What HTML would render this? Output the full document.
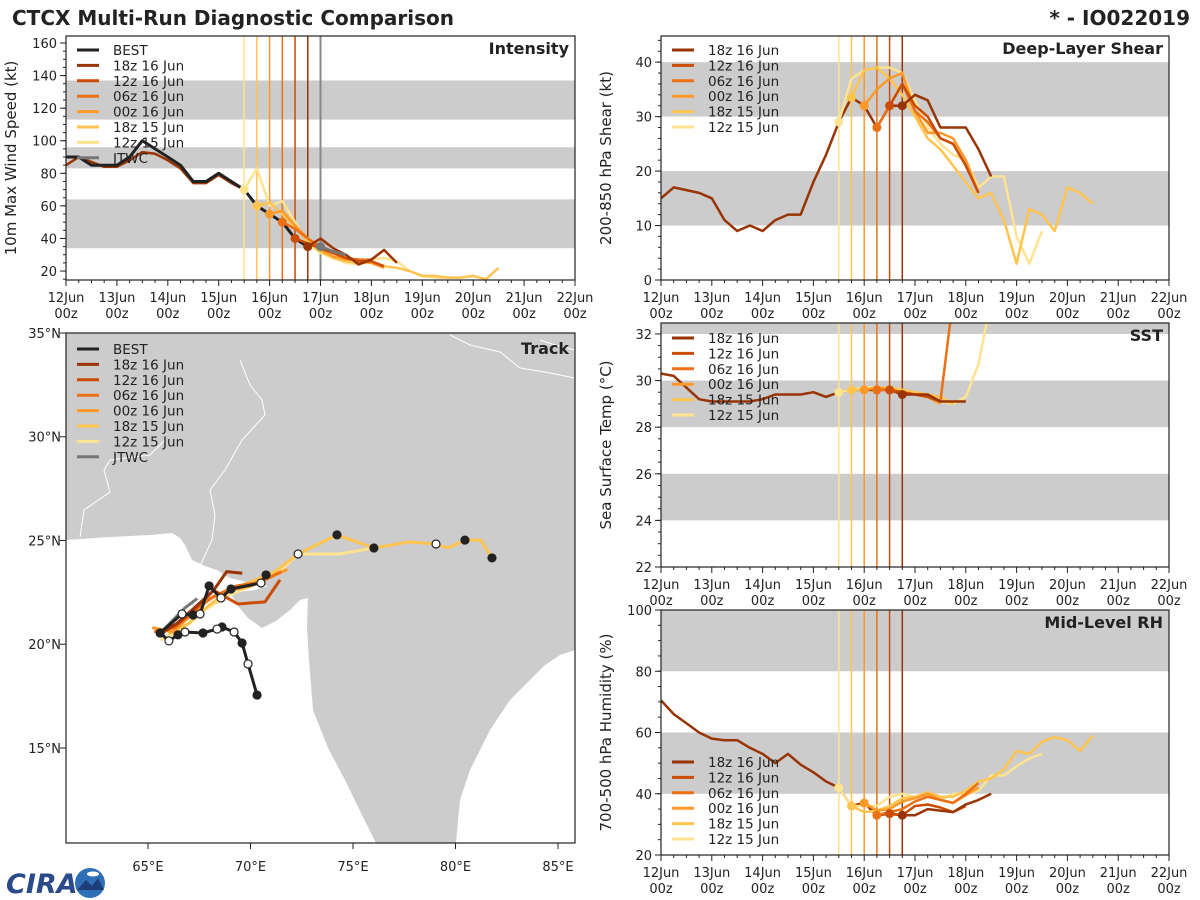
<!DOCTYPE html>
<html><head><meta charset="utf-8"><style>
html,body{margin:0;padding:0;background:#fff;}
svg{display:block;font-family:"DejaVu Sans","Liberation Sans",sans-serif;}
</style></head><body>
<svg id="fig" width="1200" height="900" viewBox="0 0 1200 900" xmlns="http://www.w3.org/2000/svg">
<text x="12" y="25" font-size="20" font-weight="bold" fill="#222">CTCX Multi-Run Diagnostic Comparison</text>
<text x="1190" y="25" font-size="20" font-weight="bold" fill="#222" text-anchor="end">* - IO022019</text>
<g>
<text x="6" y="893" font-size="27" font-weight="bold" fill="#2a4a8a" font-style="italic">CIRA</text>
<circle cx="90" cy="883" r="15" fill="#2f6fb5"/>
<path d="M77 890 L86 880 L92 886 L98 878 L104 890 Z" fill="#1d3d7a"/>
<ellipse cx="93" cy="874" rx="6" ry="2.5" fill="#fff"/>
</g>
</svg>
<script>
// ---------- data ----------
const dayLabels = ['12Jun','13Jun','14Jun','15Jun','16Jun','17Jun','18Jun','19Jun','20Jun','21Jun','22Jun'];
const runNames = ['18z 16 Jun','12z 16 Jun','06z 16 Jun','00z 16 Jun','18z 15 Jun','12z 15 Jun'];
const runColors = ['#993404','#cc4c02','#ec7014','#fe9929','#fec44f','#fee391'];
const runStart = [19,18,17,16,15,14];   // 6-hour steps since 12Jun 00z
const jtwcStart = 20;

// Intensity (kt)
const intTicks = [20,40,60,80,100,120,140,160];
const intBest = [90,90,85,85,85,90,100,95,90,85,75,75,80,75,70,60,55,50,40,35];
const intHist = [85,90,87,84,84,88,93,92,88,83,74,74,79,74,70,60,55,50,40,35];
const int18z16 = [35,40,34,30,24,27,33,25];
const int12z16 = [40,37,34,31,28,26,26,23];
const int06z16 = [50,46,40,35,31,28,27,27];
const int00z16 = [55,57,48,40,33,29,27,27,25,22];
const int18z15 = [60,62,55,47,38,32,28,26,25,25,23,22,20,17,17,16,16,17,15,22];
const int12z15 = [70,83,60,63,50,37,31,28,25,24,27,28,26,20,17,16,16];
const intJtwc = [35,32,30];

// Shear (kt)
const shrTicks = [0,10,20,30,40];
const shrHist = [15,17,16.5,16,15,11,9,10,9,11,12,12,18,23,29,33.5,32,28,32,32];
const shr18z16 = [32,34,33,28,28,28,24,19];
const shr12z16 = [32,36,32,30,26,25,21,16];
const shr06z16 = [28,32,36,31,29,26,25,21,16];
const shr00z16 = [32,35,37,38,31,27,27,26,22,16];
const shr18z15 = [33.5,38.5,39,37,34,30,26,24,21,18,15,16,11,3,13,12,9,17,16,14];
const shr12z15 = [29,37,38.5,39,39,38,33,28,25,23,22,17,19,19,8,3,9];

// SST (C)
const sstTicks = [22,24,26,28,30,32];
const sstHist = [30.3,30.2,29.7,29.2,29.1,29.1,29.1,29.1,29.2,29.4,29.4,29.4,29.5,29.3,29.5,29.6,29.6,29.6,29.6,29.4];
const sst18z16 = [29.4,29.4,29.4,29.1,29.1,29.1];
const sst12z16 = [29.6,29.5,29.4,29.3,29.1];
const sst06z16 = [29.6,29.6,29.5,29.4,29.3,29.1,33.5];
const sst00z16 = [29.6,29.7,29.6,29.5,29.4,29.3,29.0];
const sst18z15 = [29.6,29.6,29.7,29.7,29.6,29.5,29.4,29.3,29.0];
const sst12z15 = [29.5,29.6,29.7,29.7,29.6,29.5,29.4,29.3,29.1,29.0,29.3,30.7,33.5];

// RH (%)
const rhTicks = [20,40,60,80,100];
const rhHist = [70.5,66,63,60,58,57.5,57.5,55,53,50,53,49.5,47,44,42,36,37,33,33.5,33];
const rh18z16 = [33,33,35,34.5,34,36.5,38,40];
const rh12z16 = [33.5,33,36,36.5,35.5,34,36];
const rh06z16 = [33,34,35,37.5,39,38,37,40,43.5];
const rh00z16 = [37,34.5,35,37.5,38.5,40,38,37,39.5,42];
const rh18z15 = [36,34,34.5,36,38.5,39,40.5,39,39,41,44,45,48,54,53,57,58.5,57.5,54,59];
const rh12z15 = [42,36,36,36,39,40,39,39.5,38,40,40,41,46,46,49,51.5,53];

// Track (lon, lat)
const bestLon = [70.32,69.88,69.59,69.20,68.61,68.37,67.68,66.80,66.46,66.02,65.59,66.66,67.20,67.54,67.98,68.56,69.05,70.51,70.76];
const bestLat = [17.55,19.05,20.06,20.59,20.83,20.73,20.54,20.59,20.45,20.16,20.54,21.46,21.41,21.46,22.81,22.23,22.66,22.95,23.34];
const jtwcLon = [65.6,66.8,67.4];
const jtwcLat = [20.54,21.75,22.2];
const trk18z16Lon = [65.5,66.4,67.2,68.2,68.84,69.6];
const trk18z16Lat = [20.5,21.0,21.7,22.6,23.5,23.42];
const trk12z16Lon = [65.6,66.5,67.3,68.2,69.39,70.71,71.44];
const trk12z16Lat = [20.5,21.0,21.7,22.6,21.94,22.04,23.1];
const trk06z16Lon = [65.3,66.3,67.2,68.2,69.3,70.5,71.5];
const trk06z16Lat = [20.6,20.8,21.6,22.3,22.8,23.0,23.5];
const trk00z16Lon = [65.2,66.2,67.0,68.0,69.0,70.0,70.9,71.8];
const trk00z16Lat = [20.8,20.6,21.3,22.2,22.6,22.8,23.2,23.6];
const trk18z15Lon = [66.0,67.0,68.0,69.0,70.0,71.2,72.32,74.22,76.02,77.73,79.05,79.63,80.46,81.24,81.78];
const trk18z15Lat = [20.5,21.0,21.9,22.6,23.0,23.5,24.35,25.27,24.64,24.93,24.83,24.64,25.02,25.02,24.16];
const trk12z15Lon = [65.6,66.6,67.7,68.8,70.0,71.3,72.32,74.32,76.02];
const trk12z15Lat = [20.2,20.7,21.6,22.3,22.8,23.4,24.35,24.35,24.64];
const lonTicks = [65,70,75,80,85];
const latTicks = [15,20,25,30,35];

// ---------- drawing ----------
const NS = 'http://www.w3.org/2000/svg';
const svg = document.getElementById('fig');
function mk(tag, attrs, parent){
  const e = document.createElementNS(NS, tag);
  for (const k in attrs) e.setAttribute(k, attrs[k]);
  (parent || svg).appendChild(e);
  return e;
}
function pts(arr){ return arr.map(p => p[0].toFixed(1)+','+p[1].toFixed(1)).join(' '); }

const panels = {
  int:{x0:66,x1:575,y0:36,y1:280,ymin:14.5,ymax:164.3},
  shr:{x0:661,x1:1169,y0:36,y1:280,ymin:0,ymax:44.8},
  sst:{x0:661,x1:1169,y0:323,y1:567,ymin:22,ymax:32.47},
  rh:{x0:661,x1:1169,y0:610,y1:855,ymin:20,ymax:100}
};
function X(p,t){ return p.x0 + (p.x1-p.x0)*t/40; }
function Y(p,v){ return p.y1 - (p.y1-p.y0)*(v-p.ymin)/(p.ymax-p.ymin); }

function timePanel(key, name, title, ytitle, ticks, bands, minorStep, hist, runs, extra){
  const p = panels[key];
  const g = mk('g', {});
  
  
  const cp = mk('clipPath', {id:'clip-'+key}, g);
  mk('rect', {x:p.x0, y:p.y0, width:p.x1-p.x0, height:p.y1-p.y0}, cp);
  // bands
  bands.forEach(b => {
    const y1 = Y(p, Math.min(b[1], p.ymax)), y2 = Y(p, Math.max(b[0], p.ymin));
    const r = mk('rect', {x:p.x0, y:y1, width:p.x1-p.x0, height:y2-y1, fill:'#cccccc'}, g);
    
    
  });
  const plot = mk('g', {'clip-path':'url(#clip-'+key+')'}, g);
  // init lines
  runStart.forEach((s,i) => {
    const l = mk('line', {x1:X(p,s), x2:X(p,s), y1:p.y0, y2:p.y1, stroke:runColors[i], 'stroke-width':1.5}, plot);
    
    
  });
  if (extra && extra.jtwc) {
    const l = mk('line', {x1:X(p,jtwcStart), x2:X(p,jtwcStart), y1:p.y0, y2:p.y1, stroke:'#888', 'stroke-width':2}, plot);
    
    
  }
  // history
  const hl = mk('polyline', {points:pts(hist.map((v,t)=>[X(p,t),Y(p,v)])), fill:'none', stroke:'#993404', 'stroke-width':2.5, 'stroke-linejoin':'round'}, plot);
  
  
  if (extra && extra.best) {
    const bl = mk('polyline', {points:pts(extra.best.map((v,t)=>[X(p,t),Y(p,v)])), fill:'none', stroke:'#222', 'stroke-width':3, 'stroke-linejoin':'round'}, plot);
    
    
  }
  // runs (draw oldest first)
  for (let i = runs.length-1; i >= 0; i--) {
    const s = runStart[i];
    const line = mk('polyline', {points:pts(runs[i].map((v,k)=>[X(p,s+k),Y(p,v)])), fill:'none', stroke:runColors[i], 'stroke-width':2.5, 'stroke-linejoin':'round'}, plot);
    
    
  }
  for (let i = runs.length-1; i >= 0; i--) {
    const s = runStart[i];
    const dot = mk('circle', {cx:X(p,s), cy:Y(p,runs[i][0]), r:4.5, fill:runColors[i]}, plot);
    
    
  }
  if (extra && extra.jtwc) {
    const jl = mk('polyline', {points:pts(extra.jtwc.map((v,k)=>[X(p,jtwcStart+k),Y(p,v)])), fill:'none', stroke:'#777', 'stroke-width':3}, plot);
    
    
    const jd = mk('circle', {cx:X(p,jtwcStart), cy:Y(p,extra.jtwc[0]), r:4.5, fill:'#777'}, plot);
    
    
  }
  // frame
  const fr = mk('rect', {x:p.x0, y:p.y0, width:p.x1-p.x0, height:p.y1-p.y0, fill:'none', stroke:'#222', 'stroke-width':1.2}, g);
  
  
  // y ticks
  for (let v = Math.ceil(p.ymin/minorStep)*minorStep; v <= p.ymax; v += minorStep) {
    mk('line', {x1:p.x0-3, x2:p.x0, y1:Y(p,v), y2:Y(p,v), stroke:'#222', 'stroke-width':1}, g);
  }
  ticks.forEach(v => {
    mk('line', {x1:p.x0-6, x2:p.x0, y1:Y(p,v), y2:Y(p,v), stroke:'#222', 'stroke-width':1}, g);
    const t = mk('text', {x:p.x0-9, y:Y(p,v)+5, 'font-size':13, 'text-anchor':'end', fill:'#222'}, g);
    t.textContent = v;
    
    
  });
  // x ticks
  for (let t = 0; t <= 40; t++) {
    const len = t%4===0 ? 6 : 3;
    mk('line', {x1:X(p,t), x2:X(p,t), y1:p.y1, y2:p.y1+len, stroke:'#222', 'stroke-width':1}, g);
  }
  dayLabels.forEach((d,i) => {
    const t1 = mk('text', {x:X(p,i*4), y:p.y1+22, 'font-size':13, 'text-anchor':'middle', fill:'#222'}, g);
    t1.textContent = d;
    
    
    const t2 = mk('text', {x:X(p,i*4), y:p.y1+38, 'font-size':13, 'text-anchor':'middle', fill:'#222'}, g);
    t2.textContent = '00z';
    
    
  });
  // y title
  const yt = mk('text', {x:0, y:0, 'font-size':15, 'text-anchor':'middle', fill:'#222', transform:'translate('+(p.x0-50)+','+((p.y0+p.y1)/2)+') rotate(-90)'}, g);
  yt.textContent = ytitle;
  
  
  // panel title
  const pt = mk('text', {x:p.x1-6, y:p.y0+18, 'font-size':16, 'font-weight':'bold', 'text-anchor':'end', fill:'#222'}, g);
  pt.textContent = title;
  
  
  // legend
  const ly = extra && extra.legendY ? extra.legendY : p.y0 + 14;
  const entries = [];
  if (extra && extra.best) entries.push(['BEST','#222']);
  runNames.forEach((n,i) => entries.push([n, runColors[i]]));
  if (extra && extra.jtwc) entries.push(['JTWC','#777']);
  entries.forEach((e,i) => {
    const y = ly + i*15.4;
    const sw = mk('line', {x1:p.x0+11, x2:p.x0+33, y1:y, y2:y, stroke:e[1], 'stroke-width':3}, g);
    
    
    const lt = mk('text', {x:p.x0+47, y:y+5, 'font-size':13.5, fill:'#222'}, g);
    lt.textContent = e[0];
    
    
  });
}

timePanel('int','intensity','Intensity','10m Max Wind Speed (kt)', intTicks,
  [[34,64],[83,96],[113,137]], 5, intHist,
  [int18z16,int12z16,int06z16,int00z16,int18z15,int12z15],
  {best:intBest, jtwc:intJtwc, legendY:50});
timePanel('shr','shear','Deep-Layer Shear','200-850 hPa Shear (kt)', shrTicks,
  [[10,20],[30,40]], 2, shrHist,
  [shr18z16,shr12z16,shr06z16,shr00z16,shr18z15,shr12z15], {legendY:50});
timePanel('sst','sst','SST','Sea Surface Temp (\u00B0C)', sstTicks,
  [[24,26],[28,30],[32,40]], 0.5, sstHist,
  [sst18z16,sst12z16,sst06z16,sst00z16,sst18z15,sst12z15], {legendY:338});
timePanel('rh','mid-level-rh','Mid-Level RH','700-500 hPa Humidity (%)', rhTicks,
  [[40,60],[80,100]], 5, rhHist,
  [rh18z16,rh12z16,rh06z16,rh00z16,rh18z15,rh12z15], {legendY:762});

// ---------- track panel ----------
const T = {x0:66,x1:575,y0:333,y1:843,lon0:61,lon1:85.83,lat0:10.42,lat1:35};
function LX(lon){ return T.x0 + (T.x1-T.x0)*(lon-T.lon0)/(T.lon1-T.lon0); }
function LY(lat){ return T.y1 - (T.y1-T.y0)*(lat-T.lat0)/(T.lat1-T.lat0); }
const tg = mk('g', {});


const tcp = mk('clipPath', {id:'clip-trk'}, tg);
mk('rect', {x:T.x0, y:T.y0, width:T.x1-T.x0, height:T.y1-T.y0}, tcp);
const tp = mk('g', {'clip-path':'url(#clip-trk)'}, tg);
const land = mk('polygon', {points:'66,333 575,333 575,650 560,655 545,665 530,680 510,700 490,730 470,770 460,800 456,843 376,843 362,815 345,780 328,748 313,710 309,660 307,627 308,598 300,600 290,610 276,621 262,628 248,618 238,606 232,596 238,592 255,590 268,586 250,583 230,578 217,570 205,566 192,560 185,545 180,538 172,533 150,535 110,537 66,540', fill:'#cccccc'}, tp);


const borders = mk('g', {fill:'none', stroke:'#fff', 'stroke-width':1}, tp);


['M80,537 L84,510 L110,492 L104,470 L110,460 L150,455 L165,440',
 'M200,566 L212,540 L215,515 L210,490 L225,470 L242,440 L265,415 L262,400 L250,385 L240,360',
 'M450,335 L470,345 L500,352 L520,368 L545,372 L575,378',
 'M540,340 L555,345 L575,350'].forEach(d => mk('path', {d:d}, borders));
// tracks
const tracks = [
  [trk12z15Lon,trk12z15Lat,'#fee391'],[trk18z15Lon,trk18z15Lat,'#fec44f'],
  [trk00z16Lon,trk00z16Lat,'#fe9929'],[trk06z16Lon,trk06z16Lat,'#ec7014'],
  [trk12z16Lon,trk12z16Lat,'#cc4c02'],[trk18z16Lon,trk18z16Lat,'#993404'],
  [jtwcLon,jtwcLat,'#777'],[bestLon,bestLat,'#222']
];
tracks.forEach(tr => {
  const pl = mk('polyline', {points:pts(tr[0].map((lo,i)=>[LX(lo),LY(tr[1][i])])), fill:'none', stroke:tr[2], 'stroke-width':3, 'stroke-linejoin':'round'}, tp);
  
  
});
bestLon.forEach((lo,i) => {
  const c = mk('circle', {cx:LX(lo), cy:LY(bestLat[i]), r:4, fill: i%2 ? '#fff' : '#222', stroke:'#222', 'stroke-width':1.2}, tp);
  
  
});
[6,7,8,10,12,14].forEach((k,j) => {
  const c = mk('circle', {cx:LX(trk18z15Lon[k]), cy:LY(trk18z15Lat[k]), r:4, fill: j%3===0||j===3 ? '#fff' : '#222', stroke:'#222', 'stroke-width':1.2}, tp);
  
  
});
const tfr = mk('rect', {x:T.x0, y:T.y0, width:T.x1-T.x0, height:T.y1-T.y0, fill:'none', stroke:'#222', 'stroke-width':1.2}, tg);


lonTicks.forEach(lo => {
  mk('line', {x1:LX(lo), x2:LX(lo), y1:T.y1, y2:T.y1+6, stroke:'#222'}, tg);
  const t = mk('text', {x:LX(lo), y:T.y1+28, 'font-size':13, 'text-anchor':'middle', fill:'#222'}, tg);
  t.textContent = lo + '\u00B0E';
  
  
});
latTicks.forEach(la => {
  mk('line', {x1:T.x0-6, x2:T.x0, y1:LY(la), y2:LY(la), stroke:'#222'}, tg);
  const t = mk('text', {x:T.x0-5, y:LY(la)+5, 'font-size':13, 'text-anchor':'end', fill:'#222'}, tg);
  t.textContent = la + '\u00B0N';
  
  
});
const ttl = mk('text', {x:T.x1-6, y:T.y0+21, 'font-size':16, 'font-weight':'bold', 'text-anchor':'end', fill:'#222'}, tg);
ttl.textContent = 'Track';


const tEntries = [['BEST','#222']].concat(runNames.map((n,i)=>[n,runColors[i]])).concat([['JTWC','#777']]);
tEntries.forEach((e,i) => {
  const y = 349 + i*15.4;
  const sw = mk('line', {x1:T.x0+11, x2:T.x0+33, y1:y, y2:y, stroke:e[1], 'stroke-width':3}, tg);
  
  
  const lt = mk('text', {x:T.x0+47, y:y+5, 'font-size':13.5, fill:'#222'}, tg);
  lt.textContent = e[0];
  
  
});
</script>
</body></html>
